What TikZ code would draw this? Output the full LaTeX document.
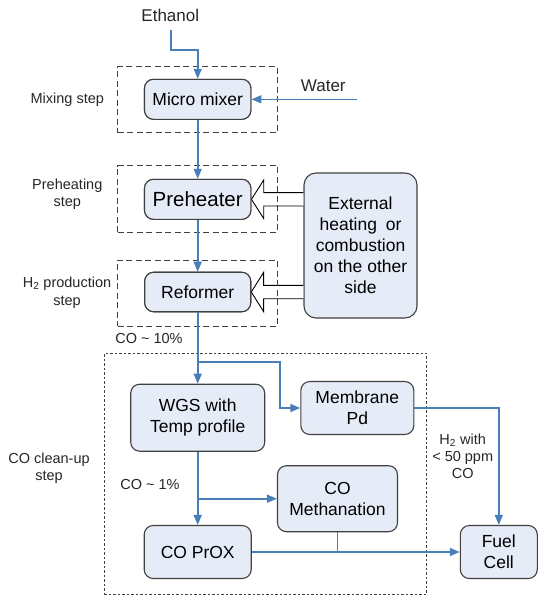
\documentclass[tikz,border=0pt]{standalone}
\usepackage{fontspec}
\setmainfont{Liberation Sans}
\usetikzlibrary{arrows.meta,calc}
\definecolor{flowblue}{HTML}{4A7EBB}
\definecolor{boxfill}{HTML}{E6ECF7}
\definecolor{edgegray}{HTML}{404040}
\begin{document}
\begin{tikzpicture}[x=1pt,y=-1pt,
  proc/.style={draw=edgegray, fill=boxfill, line width=1.1pt, rounded corners=9pt, align=center, inner sep=0pt, font=\fontsize{17.5}{21}\selectfont},
  stepbox/.style={draw=edgegray, dash pattern=on 6pt off 3.5pt, line width=1pt, inner sep=0pt},
  cleanbox/.style={draw=edgegray, dash pattern=on 2.5pt off 2pt, line width=0.9pt, inner sep=0pt},
  lbl/.style={align=center, inner sep=0pt, font=\fontsize{14.5}{17.5}\selectfont, text=black!85},
  iotext/.style={inner sep=0pt, font=\fontsize{17}{20}\selectfont, text=black!85},
  flow/.style={draw=flowblue, line width=1.6pt, -{Triangle[length=10pt,width=8pt]}},
  plainflow/.style={draw=flowblue, line width=1.6pt},
  blockarrow/.style={draw=black, line width=0.9pt, fill=white, line join=miter}
]
\useasboundingbox (0,0) rectangle (538,597);

% process nodes
\node[proc, minimum width=106.4pt, minimum height=40pt] (mix) at (197.7,99.3) {Micro mixer};
\node[proc, minimum width=106.4pt, minimum height=40pt, font=\fontsize{20.5}{24}\selectfont] (pre) at (197.7,199.3) {Preheater};
\node[proc, minimum width=106pt, minimum height=39.5pt] (ref) at (197.7,292) {Reformer};
\node[proc, rounded corners=12pt, minimum width=113pt, minimum height=145pt] (ext) at (360.5,245.5) {External\\heating\hspace{0.5em}or\\combustion\\on the other\\side};

% block arrows (heat supply)
\draw[blockarrow] ($(ext.west |- pre.east)+(0,-6.7)$) -- ($(pre.east)+(12.3,-6.7)$) -- ($(pre.east)+(12.3,-19.3)$) -- (pre.east) -- ($(pre.east)+(12.3,19.3)$) -- ($(pre.east)+(12.3,6.7)$) -- ($(ext.west |- pre.east)+(0,6.7)$);
\draw[blockarrow] ($(ext.west |- ref.east)+(0,-6.7)$) -- ($(ref.east)+(12.3,-6.7)$) -- ($(ref.east)+(12.3,-19.5)$) -- (ref.east) -- ($(ref.east)+(12.3,19.5)$) -- ($(ref.east)+(12.3,6.7)$) -- ($(ext.west |- ref.east)+(0,6.7)$);

% step boxes
\node[stepbox, minimum width=159.6pt, minimum height=66pt] (mixbox) at (197.5,99.7) {};
\node[stepbox, minimum width=159.6pt, minimum height=66.6pt] (prebox) at (197.5,199) {};
\node[stepbox, minimum width=159.6pt, minimum height=66pt] (refbox) at (197.5,293) {};
\node[cleanbox, minimum width=322.4pt, minimum height=241pt] (cleanup) at (265.5,473.8) {};

% redraw process nodes over dashed boxes
\node[proc, minimum width=106.4pt, minimum height=40pt] at (mix) {Micro mixer};
\node[proc, minimum width=106.4pt, minimum height=40pt, font=\fontsize{20.5}{24}\selectfont] at (pre) {Preheater};
\node[proc, minimum width=106pt, minimum height=39.5pt] at (ref) {Reformer};

\node[proc, minimum width=134pt, minimum height=67pt] (wgs) at (197.7,417.7) {WGS with\\Temp profile};
\node[proc, minimum width=113pt, minimum height=53pt] (mem) at (357.3,408) {Membrane\\Pd};
\node[proc, minimum width=120pt, minimum height=66pt] (meth) at (337.5,498.7) {CO\\Methanation};
\node[proc, minimum width=107pt, minimum height=53pt] (prox) at (197.7,552) {CO PrOX};
\node[proc, minimum width=77pt, minimum height=53pt] (fc) at (498.8,552) {Fuel\\Cell};

% inputs
\node[iotext] (ethanol) at (170.3,15) {Ethanol};
\node[iotext] (water) at (323.3,86) {Water};
\coordinate (eth) at (171,30);
\coordinate (wat) at (357.3,99.3);

% labels
\node[lbl] (lmix) at (67.3,100) {Mixing step};
\node[lbl] (lpre) at (67.3,194.2) {Preheating\\step};
\node[lbl] (lref) at (67,292.5) {H\textsubscript{2} production\\step};
\node[lbl] (lco10) at (149,339) {CO \textasciitilde{} 10\%};
\node[lbl] (lco1) at (150,485) {CO \textasciitilde{} 1\%};
\node[lbl] (lclean) at (49,468) {CO clean-up\\step};
\node[lbl, font=\fontsize{14.5}{17.2}\selectfont] (lh2) at (462.7,456.3) {H\textsubscript{2} with\\< 50 ppm\\CO};

% connectors
\draw[flow] (eth) -- ++(0,20) -| (mix.north);
\draw[flow] (wat) -- (mix.east);
\draw[flow] (mix.south) -- (pre.north);
\draw[flow] (pre.south) -- (ref.north);
\draw[flow] (ref.south) -- (wgs.north);
\coordinate (br1) at (197.7,361.7);
\draw[flow] (br1) -| (280,408) -- (mem.west);
\draw[flow] (mem.east) -| (fc.north);
\draw[flow] (wgs.south) -- (prox.north);
\coordinate (br2) at (wgs.south |- meth.west);
\draw[flow] (br2) -- (meth.west);
\draw[flow] (prox.east) -- (fc.west);
\draw[plainflow] (meth.south) -- (meth.south |- prox.east);
\end{tikzpicture}
\end{document}
